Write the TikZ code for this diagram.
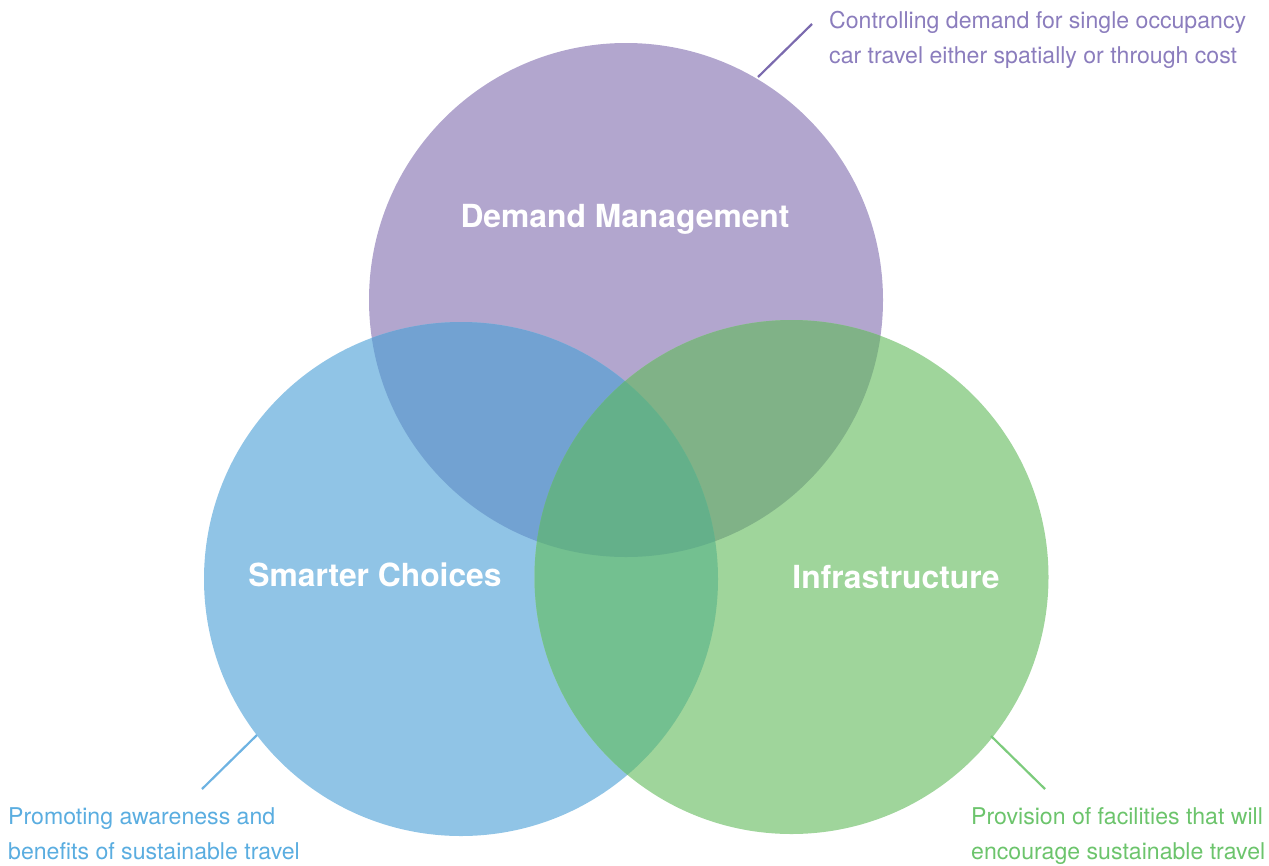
\documentclass[tikz,border=0pt]{standalone}
\usepackage{fontspec}
\setmainfont{TeX Gyre Heros}
\definecolor{cP}{HTML}{B2A6CE}
\definecolor{cB}{HTML}{90C4E6}
\definecolor{cG}{HTML}{9FD59B}
\definecolor{cBP}{HTML}{72A2D2}
\definecolor{cPG}{HTML}{80B287}
\definecolor{cBG}{HTML}{73C090}
\definecolor{cBPG}{HTML}{64B08A}
\definecolor{tP}{HTML}{8B7DBD}
\definecolor{tB}{HTML}{5AADE0}
\definecolor{tG}{HTML}{6CC46C}
\definecolor{lP}{HTML}{7B6AAE}
\definecolor{lB}{HTML}{6EB3E2}
\definecolor{lG}{HTML}{7CCB7C}
\begin{document}
\begin{tikzpicture}[x=1pt,y=-1pt,
  title/.style={text=white,font=\bfseries\fontsize{31.8}{36}\selectfont,inner sep=0pt,anchor=base},
  desc/.style={font=\fontsize{23.1}{28}\selectfont,inner sep=0pt,anchor=base west},
  leader/.style={line width=2.2pt}]
\useasboundingbox (0,0) rectangle (1269,865);
\coordinate (cd) at (626,300);
\coordinate (cs) at (461,579);
\coordinate (ci) at (791.5,577);
\def\R{257}
\fill[cP] (cd) circle (\R);
\fill[cB] (cs) circle (\R);
\fill[cG] (ci) circle (\R);
\begin{scope}
  \clip (cd) circle (\R);
  \fill[cBP] (cs) circle (\R);
  \fill[cPG] (ci) circle (\R);
\end{scope}
\begin{scope}
  \clip (cs) circle (\R);
  \fill[cBG] (ci) circle (\R);
  \clip (ci) circle (\R);
  \fill[cBPG] (cd) circle (\R);
\end{scope}
\node[title] (dm) at (625,227) {Demand Management};
\node[title] (sc) at (375,586) {Smarter Choices};
\node[title] (inf) at (896,588) {Infrastructure};
% leaders
\coordinate (pa) at (758,77); \coordinate (pb) at (812,24);
\coordinate (ba) at (257,735); \coordinate (bb) at (202,789);
\coordinate (ga) at (991,736); \coordinate (gb) at (1045,789);
\draw[leader,lP] (pa) -- (pb);
\draw[leader,lB] (ba) -- (bb);
\draw[leader,lG] (ga) -- (gb);
\node[desc,text=tP] (d1) at (829,28) {Controlling demand for single occupancy};
\node[desc,text=tP] (d2) at (829,63) {car travel either spatially or through cost};
\node[desc,text=tB] (s1) at (8,824) {Promoting awareness and};
\node[desc,text=tB] (s2) at (8,859) {benefits of sustainable travel};
\node[desc,text=tG] (i1) at (971,824) {Provision of facilities that will};
\node[desc,text=tG] (i2) at (971,859) {encourage sustainable travel};
\end{tikzpicture}
\end{document}
